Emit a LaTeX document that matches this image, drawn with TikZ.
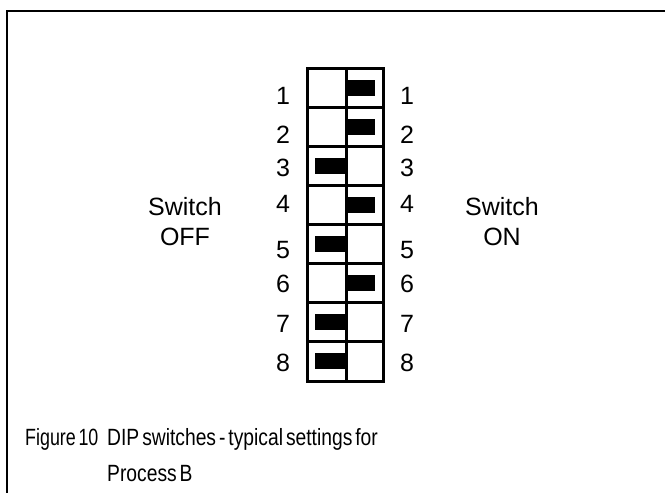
\documentclass[tikz,border=0pt]{standalone}
\usepackage{fontspec}
\setmainfont{Liberation Sans}
\newfontfamily\capfont[WordSpace=0.55]{Liberation Sans}
\newcommand{\captxt}[2][0.82]{\scalebox{#1}[1]{#2}}

\begin{document}
\begin{tikzpicture}[x=1pt, y=-1pt, font=\fontsize{25}{30}\selectfont]
\tikzset{caption/.style={inner sep=0, anchor=base west, font=\capfont\fontsize{23.5}{36}\selectfont}}
% Background
\fill[white] (0, 0) rectangle (665, 493);
\useasboundingbox (0, 0) rectangle (665, 493);

% Frame
\draw[line width=2.5pt] (7, 493) -- (7, 11) -- (665, 11);

% Switch Block
\draw[line width=3pt] (307, 68) rectangle (383, 381);
\draw[line width=3pt] (346, 68) -- (346, 381);
\foreach \r in {1, ..., 7} {\draw[line width=3pt] (307, {68+39.125*\r}) -- (383, {68+39.125*\r});}

% Levers (right = ON, left = OFF)
\foreach \r/\xa/\xb in {1/346/375, 2/346/375, 3/315/346, 4/346/375, 5/315/346, 6/346/375, 7/315/346, 8/315/346}
  {\fill[black] (\xa, {68+39.125*(\r-0.5)-8}) rectangle (\xb, {68+39.125*(\r-0.5)+8});}

% Numbers
\foreach \n/\yy in {1/95.5, 2/134.5, 3/168, 4/204, 5/250, 6/283.5, 7/323.5, 8/362.5} {
  \node[inner sep=0] (off\n) at (283, \yy) {\n};
  \node[inner sep=0] (on\n) at (407, \yy) {\n};
}

% Side Labels
\node[inner sep=0, anchor=base] (offlabel) at (185, 215) {Switch};
\node[inner sep=0, anchor=base] (offstate) at (185, 245) {OFF};
\node[inner sep=0, anchor=base] (onlabel) at (502, 215) {Switch};
\node[inner sep=0, anchor=base] (onstate) at (502, 245) {ON};

% Caption
\node[caption] (capnum) at (25, 445) {\captxt[0.76]{Figure 10}};
\node[caption] (captext) at (107, 445) {\captxt{DIP switches - typical settings for}};
\node[caption] (captext2) at (107, 481) {\captxt{Process B}};
\end{tikzpicture}
\end{document}
